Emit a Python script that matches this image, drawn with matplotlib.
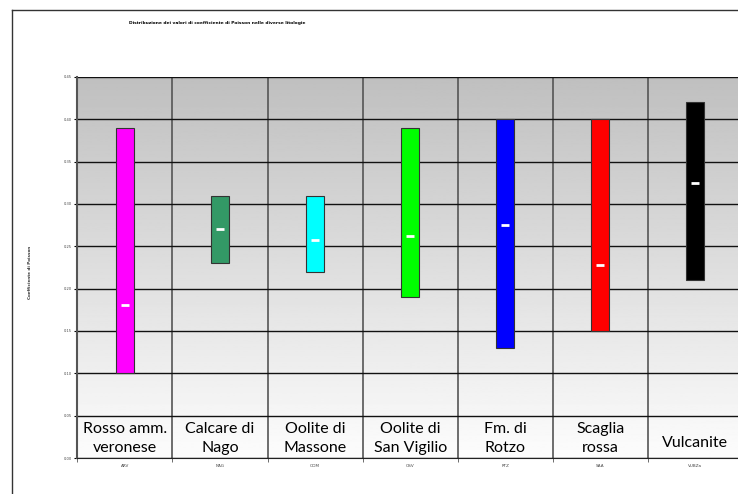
import matplotlib.pyplot as plt
import numpy as np

codes = ['ARV', 'NAG', 'OOM', 'OSV', 'RTZ', 'SAA', 'VUBZa']
names = ['Rosso amm.\nveronese', 'Calcare di\nNago', 'Oolite di\nMassone',
         'Oolite di\nSan Vigilio', 'Fm. di\nRotzo', 'Scaglia\nrossa', 'Vulcanite']
v_min = [0.10, 0.23, 0.22, 0.19, 0.13, 0.15, 0.21]
v_max = [0.39, 0.31, 0.31, 0.39, 0.40, 0.40, 0.42]
v_mean = [0.181, 0.270, 0.257, 0.262, 0.275, 0.228, 0.325]
colors = ['#ff00ff', '#339966', '#00ffff', '#00ff00', '#0000ff', '#ff0000', '#000000']

fig = plt.figure(figsize=(7.38, 4.94), dpi=100)

# chart area border (only top and left visible)
fig.add_artist(plt.Line2D([12/738, 1.0], [1 - 10/494, 1 - 10/494], color='#333333', lw=1))
fig.add_artist(plt.Line2D([12/738, 12/738], [0.0, 1 - 10/494], color='#333333', lw=1))

ax = fig.add_axes([77.3/738, 1 - 458/494, 665.7/738, 381/494])
x = np.arange(len(codes))

# gray gradient background, dark at top
grad = np.linspace(0.75, 0.99, 256).reshape(-1, 1)
ax.imshow(grad, extent=[-0.5, 6.5, 0.0, 0.45], origin='upper', cmap='gray',
          vmin=0, vmax=1, aspect='auto', zorder=0)

ax.bar(x, np.array(v_max) - np.array(v_min), bottom=v_min, width=0.19,
       color=colors, edgecolor='#333333', linewidth=0.8, zorder=3)
ax.plot(x, v_mean, linestyle='none', marker='_', color='white',
        markersize=6, markeredgewidth=2, zorder=4)

for i, n in enumerate(names):
    yb = 0.009 if '\n' not in n else 0.004
    ax.text(i, yb, n, ha='center', va='bottom', fontsize=11.5,
            family='Lato', linespacing=1.45, zorder=5)

ax.set_xlim(-0.5, 6.5)
ax.set_ylim(0, 0.45)
ax.set_yticks(np.arange(0, 0.451, 0.05))
ax.set_yticklabels(['%.2f' % t for t in np.arange(0, 0.451, 0.05)])
ax.set_xticks(x)
ax.set_xticklabels(codes)
ax.set_xticks(np.arange(-0.5, 6.6, 1), minor=True)
ax.grid(True, which='minor', axis='x', color='#555555', lw=1.2, zorder=1)
ax.grid(True, which='major', axis='y', color='#111111', lw=1, zorder=1)
ax.tick_params(axis='x', which='major', length=0, labelsize=3, labelcolor='#444444', pad=4)
ax.tick_params(axis='x', which='minor', length=3, color='#555555')
ax.tick_params(axis='y', length=2, labelsize=2.6, labelcolor='#444444', pad=2)
for s in ['top', 'right']:
    ax.spines[s].set_visible(False)
ax.spines['left'].set_color('#555555')
ax.spines['left'].set_linewidth(1.5)
ax.spines['bottom'].set_color('#222222')

fig.text(217/738, 1 - 23/494, 'Distribuzione dei valori di coefficiente di Poisson nelle diverse litologie',
         ha='center', va='center', fontsize=3.2, fontweight='bold', family='Liberation Sans Narrow')
fig.text(30/738, 1 - 272/494, 'Coefficiente di Poisson', rotation=90, ha='center', va='center',
         fontsize=3, fontweight='bold', color='#333333')

fig.savefig('out.png', dpi=100)
